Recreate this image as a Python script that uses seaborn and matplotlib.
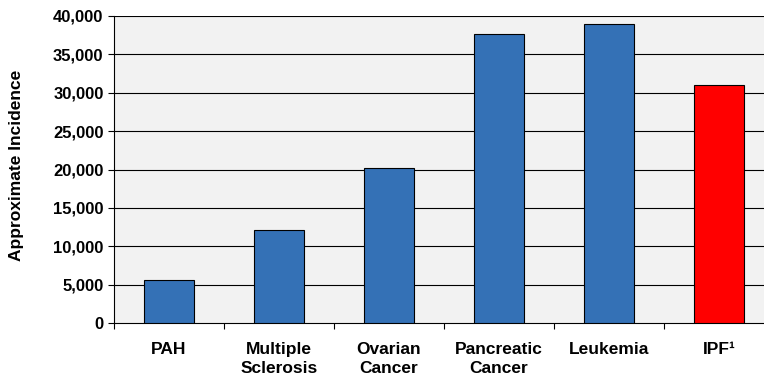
import matplotlib
matplotlib.use('Agg')
import matplotlib.pyplot as plt
import seaborn as sns

# ── Data ────────────────────────────────────────────────────────────────────
categories = ['PAH', 'Multiple\nSclerosis', 'Ovarian\nCancer',
              'Pancreatic\nCancer', 'Leukemia', 'IPF\u00b9']
incidence = [5600, 12100, 20200, 37700, 38900, 31000]
bar_colors = ['#3471B6', '#3471B6', '#3471B6', '#3471B6', '#3471B6', '#FF0000']
y_ticks = [0, 5000, 10000, 15000, 20000, 25000, 30000, 35000, 40000]

sns.set_style('white')
plt.rcParams['font.family'] = ['Liberation Sans', 'DejaVu Sans']
plt.rcParams['font.weight'] = 'bold'
plt.rcParams['text.color'] = 'black'
plt.rcParams['xtick.color'] = 'black'
plt.rcParams['ytick.color'] = 'black'

fig = plt.figure(figsize=(7.64, 3.76), dpi=100)
# plot area runs past the right edge, as in the reference
ax = fig.add_axes([114 / 764, 53 / 376, 660 / 764, 307 / 376])
ax.set_facecolor('#F2F2F2')

sns.barplot(x=categories, y=incidence, hue=categories, palette=bar_colors,
            legend=False, width=0.45, edgecolor='black', linewidth=0.8,
            saturation=1, ax=ax, zorder=3)

ax.set_ylim(0, 40000)
ax.set_xlim(-0.5, len(categories) - 0.5)
ax.set_yticks(y_ticks)
ax.set_yticklabels([f'{v:,}' for v in y_ticks], fontsize=12, fontweight='bold')
for v in y_ticks[1:]:
    ax.axhline(v, color='black', linewidth=0.8, zorder=1)

# category ticks sit between the bars
ax.set_xticks([i - 0.5 for i in range(len(categories) + 1)], minor=False)
ax.set_xticklabels([])
ax.set_xticks(range(len(categories)), minor=True)
ax.set_xticklabels(categories, minor=True, fontsize=12.5, fontweight='bold',
                   linespacing=1.3, va='top')
ax.tick_params(axis='x', which='minor', length=0, pad=14)
ax.tick_params(axis='x', which='major', direction='out', length=4.5, width=0.8,
               color='black', bottom=True)
ax.tick_params(axis='y', direction='out', length=4.5, width=0.8, color='black',
               left=True, pad=3)

for side in ['top', 'right']:
    ax.spines[side].set_visible(False)
for side in ['left', 'bottom']:
    ax.spines[side].set_color('black')
    ax.spines[side].set_linewidth(0.8)

ax.set_xlabel('')
ax.set_ylabel('')
fig.text(17 / 764, (376 - 165) / 376, 'Approximate Incidence', rotation=90,
         ha='center', va='center', fontsize=12.5, fontweight='bold')

plt.savefig('out.png', dpi=100)
plt.close()
